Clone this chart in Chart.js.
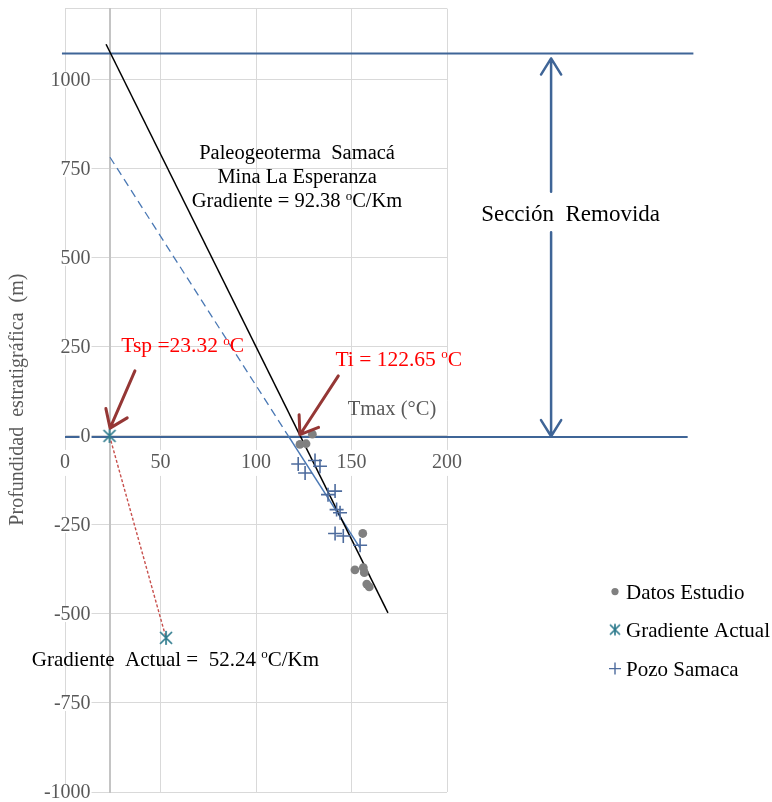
<!DOCTYPE html>
<html>
<head>
<meta charset="utf-8">
<script src="https://cdn.jsdelivr.net/npm/chart.js@4.4.0/dist/chart.umd.min.js"></script>
<style>
html, body { margin: 0; padding: 0; background: #fff; }
</style>
</head>
<body>
<canvas id="chart" width="772" height="802"></canvas>
<script>
// ejes
const xTicks = [0, 50, 100, 150, 200];
const yTicks = [-1000, -750, -500, -250, 0, 250, 500, 750, 1000];
const yTop = 1200;
const tsp = 23.32;

// series
const datosX = [129.5, 123.0, 126.2, 155.9, 151.8, 156.2, 156.7, 158.0, 159.3];
const datosY = [5, -24, -22, -274, -376, -370, -384, -416, -424];

const pozoX = [122.1, 125.7, 130.9, 133.5, 137.7, 141.4, 142.2, 144.0, 141.4, 145.7, 154.5];
const pozoY = [-79, -104, -69, -85, -165, -155, -207, -216, -274, -281, -307];

const actualX = [23.32, 52.9];
const actualY = [0, -567];

const paleoX = [21.5, 169.1];
const paleoY = [1100, -497];

const trendUpX = [23.56, 116.9];
const trendUpY = [782.5, 0];
const trendX = [116.9, 154.5];
const trendY = [0, -315];

// seccion removida
const topLineX = [-1.6, 329];
const topLineY = [1074, 1074];
const baseLineX = [0, 326];
const baseLineY = [-3, -3];
const arrowUpX = [254.5, 254.5];
const arrowUpY = [686, 1060];
const arrowDownX = [254.5, 254.5];
const arrowDownY = [572, -1];

// flechas rojas (cola -> punta)
const tspArrowX = [36.6, 23.6];
const tspArrowY = [182.5, 21.8];
const tiArrowX = [143.1, 123.0];
const tiArrowY = [168.5, 3.4];

const FONT = '"Liberation Serif", "Times New Roman", serif';
const BLUE = '#3f6597';
const GRAY_DOT = '#808080';
const TEAL = '#2e7b8d';
const PLUS = '#4d6b9d';
const DARKRED = '#953735';
const TICK_GRAY = '#595959';

function pts(xs, ys) {
    return xs.map((x, i) => ({ x: x, y: ys[i] }));
}

function starMarker(size, half, color) {
    const c = document.createElement('canvas');
    c.width = size; c.height = size;
    const g = c.getContext('2d');
    const m = size / 2;
    g.strokeStyle = color;
    g.lineWidth = 1.7;
    g.beginPath();
    g.moveTo(m - half, m - half); g.lineTo(m + half, m + half);
    g.moveTo(m + half, m - half); g.lineTo(m - half, m + half);
    g.moveTo(m, m - half * 1.15); g.lineTo(m, m + half * 1.15);
    g.stroke();
    return c;
}

function zeroPad(scale) {
    scale.paddingTop = 0; scale.paddingBottom = 0;
    scale.paddingLeft = 0; scale.paddingRight = 0;
}

// texto con superindice: "^o" sube la letra siguiente
function drawRich(ctx, str, x, y, align, size, color) {
    const parts = [];
    str.split('^').forEach((s, i) => {
        if (i === 0) { parts.push({ t: s }); return; }
        parts.push({ t: s.charAt(0), sup: true });
        parts.push({ t: s.slice(1) });
    });
    const big = size + 'px ' + FONT;
    const small = Math.round(size * 0.62) + 'px ' + FONT;
    let w = 0;
    parts.forEach(p => { ctx.font = p.sup ? small : big; w += ctx.measureText(p.t).width; });
    let cx = align === 'center' ? x - w / 2 : x;
    ctx.fillStyle = color;
    ctx.textAlign = 'left';
    ctx.textBaseline = 'alphabetic';
    parts.forEach(p => {
        ctx.font = p.sup ? small : big;
        ctx.fillText(p.t, cx, p.sup ? y - size * 0.36 : y);
        cx += ctx.measureText(p.t).width;
    });
}

function arrow(ctx, x1, y1, x2, y2, color, width, len, ang) {
    const a = Math.atan2(y2 - y1, x2 - x1);
    ctx.save();
    ctx.strokeStyle = color;
    ctx.lineWidth = width;
    ctx.lineCap = 'round';
    ctx.lineJoin = 'round';
    ctx.beginPath();
    ctx.moveTo(x1, y1);
    ctx.lineTo(x2, y2);
    ctx.moveTo(x2 - len * Math.cos(a - ang), y2 - len * Math.sin(a - ang));
    ctx.lineTo(x2, y2);
    ctx.lineTo(x2 - len * Math.cos(a + ang), y2 - len * Math.sin(a + ang));
    ctx.stroke();
    ctx.restore();
}

const extras = {
    id: 'extras',
    afterDatasetsDraw(chart) {
        const ctx = chart.ctx;
        const sx = chart.scales.x, sy = chart.scales.y;
        const px = v => sx.getPixelForValue(v);
        const py = v => sy.getPixelForValue(v);
        const area = chart.chartArea;

        // etiquetas del eje y, junto al eje que cruza en Tsp
        ctx.save();
        ctx.font = '20px ' + FONT;
        ctx.textAlign = 'right';
        ctx.textBaseline = 'middle';
        sy.ticks.forEach(t => {
            if (t.value === yTop) return;
            const label = String(t.value);
            const w = ctx.measureText(label).width;
            const x = px(tsp) - 19, y = py(t.value);
            ctx.fillStyle = '#fff';
            ctx.fillRect(x - w - 1, y - 8, w + 2, 16);
            ctx.fillStyle = TICK_GRAY;
            ctx.fillText(label, x, y + 1);
        });
        ctx.restore();

        // flechas
        arrow(ctx, px(arrowUpX[0]), py(arrowUpY[0]), px(arrowUpX[1]), py(arrowUpY[1]), BLUE, 2.5, 19, 0.56);
        arrow(ctx, px(arrowDownX[0]), py(arrowDownY[0]), px(arrowDownX[1]), py(arrowDownY[1]), BLUE, 2.5, 19, 0.56);
        arrow(ctx, px(tspArrowX[0]), py(tspArrowY[0]), px(tspArrowX[1]), py(tspArrowY[1]), DARKRED, 3, 20, 0.62);
        arrow(ctx, px(tiArrowX[0]), py(tiArrowY[0]), px(tiArrowX[1]), py(tiArrowY[1]), DARKRED, 3, 20, 0.62);

        // textos
        drawRich(ctx, 'Paleogeoterma  Samacá', px(121.5), py(777), 'center', 20.5, '#000');
        drawRich(ctx, 'Mina La Esperanza', px(121.5), py(777) + 24, 'center', 20.5, '#000');
        drawRich(ctx, 'Gradiente = 92.38 ^oC/Km', px(121.5), py(777) + 48, 'center', 20.5, '#000');
        drawRich(ctx, 'Sección  Removida', px(264.7), py(602.5), 'center', 23, '#000');
        drawRich(ctx, 'Tsp =23.32 ^oC', px(29.5), py(234.6), 'left', 21.5, '#ff0000');
        drawRich(ctx, 'Ti = 122.65 ^oC', px(141.6), py(197.4), 'left', 21.5, '#ff0000');
        drawRich(ctx, 'Tmax (°C)', px(171.2), py(57.4), 'center', 20.5, TICK_GRAY);
        drawRich(ctx, 'Gradiente  Actual =  52.24 ^oC/Km', px(-17.4), py(-645), 'left', 21, '#000');

        // titulo eje y
        ctx.save();
        ctx.translate(area.left - 47, py(102));
        ctx.rotate(-Math.PI / 2);
        ctx.font = '20px ' + FONT;
        ctx.fillStyle = TICK_GRAY;
        ctx.textAlign = 'center';
        ctx.textBaseline = 'middle';
        ctx.fillText('Profundidad  estratigráfica  (m)', 0, 0);
        ctx.restore();

        // leyenda
        const lx = area.right + 168, tx = area.right + 179;
        const rows = [area.top + 583, area.top + 621, area.top + 660];
        ctx.save();
        ctx.fillStyle = GRAY_DOT;
        ctx.beginPath(); ctx.arc(lx, rows[0], 3.6, 0, Math.PI * 2); ctx.fill();
        const star = starMarker(14, 5, TEAL);
        ctx.drawImage(star, lx - 7, rows[1] - 7);
        ctx.strokeStyle = PLUS; ctx.lineWidth = 1.4;
        ctx.beginPath();
        ctx.moveTo(lx - 6, rows[2]); ctx.lineTo(lx + 6, rows[2]);
        ctx.moveTo(lx, rows[2] - 6); ctx.lineTo(lx, rows[2] + 6);
        ctx.stroke();
        ctx.restore();
        ['Datos Estudio', 'Gradiente Actual', 'Pozo Samaca'].forEach((t, i) => {
            drawRich(ctx, t, tx, rows[i] + 7, 'left', 21, '#000');
        });
    }
};

const starImg = starMarker(16, 6, TEAL);
const tickFont = { family: FONT, size: 20 };

new Chart(document.getElementById('chart'), {
    type: 'scatter',
    data: {
        datasets: [
            { label: 'Datos Estudio', data: pts(datosX, datosY), pointStyle: 'circle', pointRadius: 4.4,
              backgroundColor: GRAY_DOT, borderColor: GRAY_DOT, borderWidth: 0 },
            { label: 'Gradiente Actual', data: pts(actualX, actualY), pointStyle: starImg, pointRadius: 7 },
            { label: 'Pozo Samaca', data: pts(pozoX, pozoY), pointStyle: 'cross', pointRadius: 7,
              borderColor: PLUS, borderWidth: 1.6 },
            { label: 'paleo', data: pts(paleoX, paleoY), showLine: true, pointRadius: 0,
              borderColor: '#000', borderWidth: 1.5, clip: false },
            { label: 'tendencia', data: pts(trendX, trendY), showLine: true, pointRadius: 0,
              borderColor: '#4a78b4', borderWidth: 1.5 },
            { label: 'tendencia proyectada', data: pts(trendUpX, trendUpY), showLine: true, pointRadius: 0,
              borderColor: '#4a78b4', borderWidth: 1.3, borderDash: [8, 5] },
            { label: 'actual', data: pts(actualX, actualY), showLine: true, pointRadius: 0,
              borderColor: '#c8504d', borderWidth: 1.4, borderDash: [3, 2] },
            { label: 'tope', data: pts(topLineX, topLineY), showLine: true, pointRadius: 0,
              borderColor: BLUE, borderWidth: 2, clip: false },
            { label: 'base', data: pts(baseLineX, baseLineY), showLine: true, pointRadius: 0,
              borderColor: BLUE, borderWidth: 2, clip: false }
        ]
    },
    options: {
        responsive: false,
        animation: false,
        layout: { padding: { left: 65, right: 325, top: 6, bottom: 10 } },
        plugins: { legend: { display: false }, tooltip: { enabled: false } },
        scales: {
            x: {
                type: 'linear', min: 0, max: 200, position: { y: 0 },
                afterBuildTicks: s => { s.ticks = xTicks.map(v => ({ value: v })); },
                afterFit: zeroPad,
                grid: { color: '#d9d9d9', drawTicks: false },
                border: { display: false },
                ticks: { color: TICK_GRAY, font: tickFont, padding: 15, callback: v => String(v),
                         showLabelBackdrop: true, backdropColor: '#fff', backdropPadding: 1 }
            },
            y: {
                type: 'linear', min: -1000, max: yTop, position: { x: tsp },
                afterBuildTicks: s => { s.ticks = yTicks.concat([yTop]).map(v => ({ value: v })); },
                afterFit: zeroPad,
                grid: { color: '#d9d9d9', drawTicks: false },
                border: { color: '#c4c4c4', width: 2 },
                ticks: { display: false }
            }
        }
    },
    plugins: [extras]
});
</script>
</body>
</html>
